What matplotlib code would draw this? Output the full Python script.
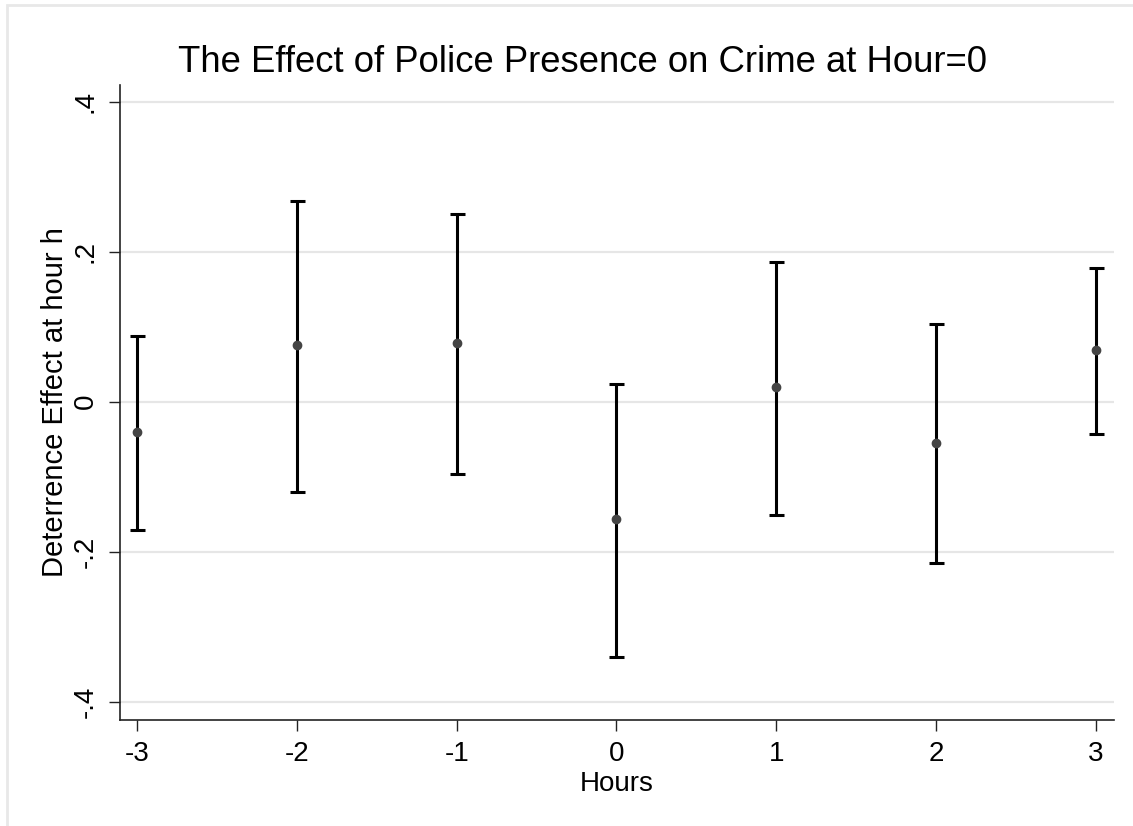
"""
Event-study style coefficient plot with confidence intervals
"""

import matplotlib
import matplotlib.pyplot as plt
from matplotlib.patches import Rectangle
import numpy as np

matplotlib.use("Agg")

# hours relative to the event, point estimates and 95% interval bounds
hours = [-3, -2, -1, 0, 1, 2, 3]
coef = [-0.041, 0.076, 0.078, -0.157, 0.020, -0.055, 0.069]
ci_low = [-0.171, -0.120, -0.097, -0.341, -0.151, -0.215, -0.043]
ci_high = [0.087, 0.268, 0.250, 0.024, 0.186, 0.103, 0.178]

y_ticks = [-0.4, -0.2, 0.0, 0.2, 0.4]
y_tick_labels = ["-.4", "-.2", "0", ".2", ".4"]
x_tick_labels = ["-3", "-2", "-1", "0", "1", "2", "3"]

plt.rcParams["font.family"] = ["Liberation Sans", "DejaVu Sans"]

fig = plt.figure(figsize=(11.33, 8.26), dpi=100)
fig.patch.set_facecolor("white")

# light outer frame of the graph region
fig.add_artist(
    Rectangle(
        (7 / 1133, -0.05), 1.2, 1.05 - 5 / 826,
        transform=fig.transFigure, fill=False,
        edgecolor="#e8e8e8", linewidth=2.0, zorder=0,
    )
)

ax = fig.add_axes([0.1055, 0.1283, 0.9832 - 0.1055, 0.8971 - 0.1283])

h = np.array(hours)
b = np.array(coef)
lo = np.array(ci_low)
hi = np.array(ci_high)

ax.errorbar(
    h, b, yerr=[b - lo, hi - b], fmt="none",
    ecolor="black", elinewidth=2.2, capsize=5.4, capthick=2.2, zorder=3,
)
ax.plot(h, b, "o", color="#444444", markersize=6, zorder=4)

ax.set_xlim(-3.111, 3.115)
ax.set_ylim(-0.4244, 0.4223)

ax.set_yticks(y_ticks)
ax.set_yticklabels(y_tick_labels, rotation=90, va="center")
ax.set_xticks(hours)
ax.set_xticklabels(x_tick_labels)

ax.yaxis.grid(True, color="#e6e6e6", linewidth=1.6)
ax.set_axisbelow(True)

for side in ("top", "right"):
    ax.spines[side].set_visible(False)
for side in ("left", "bottom"):
    ax.spines[side].set_linewidth(1.2)
    ax.spines[side].set_color("#222222")

ax.tick_params(axis="both", direction="out", length=8, width=1.0,
               color="#222222", labelsize=20)
ax.tick_params(axis="y", pad=7)
ax.tick_params(axis="x", pad=7)

ax.set_xlabel("Hours", fontsize=20, labelpad=3)
ax.set_ylabel("Deterrence Effect at hour h", fontsize=21, labelpad=3)

fig.text(0.5137, 0.9128, "The Effect of Police Presence on Crime at Hour=0",
         ha="center", va="baseline", fontsize=26.3)

plt.savefig("out.png", dpi=100, facecolor="white")
plt.close(fig)
